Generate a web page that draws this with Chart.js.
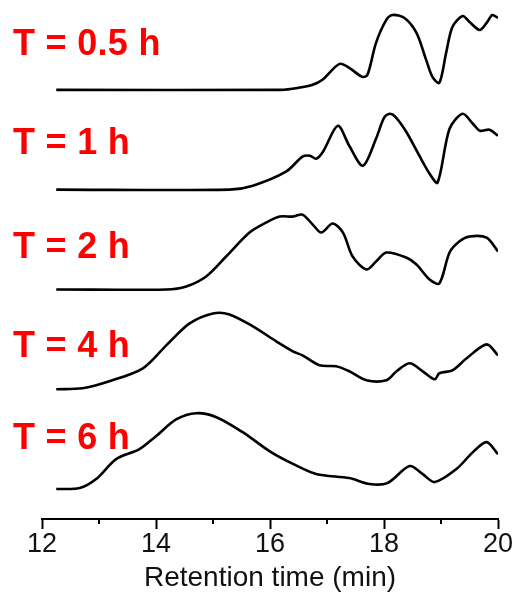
<!DOCTYPE html>
<html>
<head>
<meta charset="utf-8">
<script src="https://cdn.jsdelivr.net/npm/chart.js@4"></script>
<style>
  html, body { margin: 0; padding: 0; background: #fff; }
  #wrap { width: 518px; height: 596px; }
</style>
</head>
<body>
<div id="wrap"><canvas id="grafico" width="518" height="596"></canvas></div>
<script>
// retention time (min) and signal (a.u.) for each sampling time
var labelsT = ['T = 0.5 h', 'T = 1 h', 'T = 2 h', 'T = 4 h', 'T = 6 h'];
var offsets = [430, 330, 230, 130, 30];

var time05 = [12.25, 16.2, 16.5, 16.75, 16.92, 17.22, 17.39, 17.62, 17.71, 17.86, 18.04, 18.15, 18.36, 18.57, 18.74, 18.85, 18.97, 19.09, 19.2, 19.38, 19.5, 19.68, 19.8, 19.9, 20];
var sig05  = [0, 0, 2, 5, 10, 26, 22, 13, 15, 47, 70, 75, 72, 57, 30, 13, 7, 37, 63, 74, 68, 60, 67, 75, 72];

var time1 = [12.25, 15.29, 15.7, 16.28, 16.57, 16.7, 16.81, 16.93, 17.19, 17.39, 17.63, 17.86, 18.0, 18.1, 18.2, 18.39, 18.62, 18.8, 18.94, 19.15, 19.38, 19.56, 19.68, 19.85, 20];
var sig1  = [0, 0, 4, 18, 33, 34, 31, 38, 64, 44, 24, 51, 72, 76, 73, 58, 34, 16, 7, 61, 76, 66, 59, 60, 54];

var time2 = [12.25, 14.18, 14.53, 14.88, 15.23, 15.64, 15.93, 16.17, 16.4, 16.57, 16.75, 16.9, 17.1, 17.28, 17.45, 17.69, 17.86, 18.04, 18.39, 18.57, 18.8, 18.97, 19.15, 19.32, 19.5, 19.8, 20];
var sig2  = [0, 0, 3, 13, 33, 57, 67, 73, 73, 75, 65, 57, 66, 57, 33, 20, 28, 37, 32, 25, 10, 6, 37, 48, 53, 52, 38];

var time4 = [12.25, 12.71, 13.18, 13.77, 14.18, 14.59, 15.0, 15.29, 15.7, 16.11, 16.4, 16.57, 16.87, 17.16, 17.39, 17.69, 18.04, 18.22, 18.45, 18.68, 18.89, 18.97, 19.2, 19.45, 19.8, 20];
var sig4  = [0, 1, 8, 21, 44, 66, 76, 75, 63, 48, 38, 34, 24, 23, 18, 9, 9, 18, 26, 18, 10, 16, 19, 31, 45, 34];

var time6 = [12.25, 12.66, 12.95, 13.3, 13.71, 14.0, 14.36, 14.71, 15.06, 15.52, 15.99, 16.34, 16.81, 17.39, 17.75, 18.06, 18.45, 18.68, 18.89, 19.27, 19.56, 19.8, 20];
var sig6  = [0, 1, 10, 30, 40, 53, 70, 76, 72, 57, 38, 27, 15, 11, 5, 6, 23, 15, 7, 20, 37, 47, 35];

var xTicks = [12, 14, 16, 18, 20];
var xMinor = [13, 15, 17, 19];

var labelLift = [35, 36, 32, 32, 40];

function monta(tempos, sinais, off){
    var pts = [];
    for (var i = 0; i < tempos.length; i++){
        pts.push({x: tempos[i], y: sinais[i] + off});
    }
    return pts;
}

var series = [[time05, sig05], [time1, sig1], [time2, sig2], [time4, sig4], [time6, sig6]];
var datasets = series.map(function(s, i){
    return {
        label: labelsT[i],
        data: monta(s[0], s[1], offsets[i]),
        borderColor: '#000',
        borderWidth: 2.6,
        pointRadius: 0,
        fill: false,
        tension: 0.3
    };
});

// minor ticks + red labels
var extras = {
    id: 'extras',
    afterDraw: function(chart){
        var ctx = chart.ctx;
        var xs = chart.scales.x;
        var ys = chart.scales.y;
        ctx.save();
        ctx.strokeStyle = '#000';
        ctx.lineWidth = 2;
        xMinor.forEach(function(v){
            var px = Math.round(xs.getPixelForValue(v));
            ctx.beginPath();
            ctx.moveTo(px, xs.top);
            ctx.lineTo(px, xs.top + 5);
            ctx.stroke();
        });
        ctx.fillStyle = '#ff0000';
        ctx.font = 'bold 36px "Liberation Sans", Arial, sans-serif';
        ctx.letterSpacing = '0.3px';
        ctx.textBaseline = 'alphabetic';
        ctx.textAlign = 'left';
        labelsT.forEach(function(t, i){
            ctx.fillText(t, 13, ys.getPixelForValue(offsets[i] + labelLift[i]));
        });
        ctx.restore();
    }
};

var ctx = document.getElementById('grafico');
var meuGrafico = new Chart(ctx, {
    type: 'line',
    data: { datasets: datasets },
    options: {
        responsive: false,
        animation: false,
        layout: { padding: { left: 42, right: 20, top: 0, bottom: 0 } },
        plugins: {
            legend: { display: false },
            tooltip: { enabled: false }
        },
        scales: {
            x: {
                type: 'linear',
                min: 12,
                max: 20,
                afterBuildTicks: function(axis){
                    axis.ticks = xTicks.map(function(v){ return {value: v}; });
                },
                border: { display: true, color: '#000', width: 2 },
                grid: { display: true, drawOnChartArea: false, drawTicks: true, tickLength: 10, tickWidth: 2, tickColor: '#000' },
                ticks: {
                    color: '#111',
                    padding: 2,
                    font: { family: '"Liberation Sans", Arial, sans-serif', size: 27, lineHeight: 1 }
                },
                title: {
                    display: true,
                    text: 'Retention time (min)',
                    color: '#111',
                    padding: { top: 4, bottom: 4 },
                    font: { family: '"Liberation Sans", Arial, sans-serif', size: 28, lineHeight: 1 }
                }
            },
            y: {
                display: false,
                min: 0,
                max: 520
            }
        }
    },
    plugins: [extras]
});
</script>
</body>
</html>
